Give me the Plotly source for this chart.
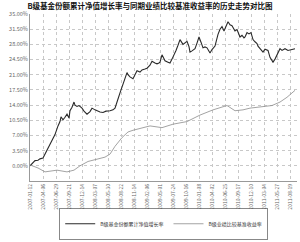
import plotly.graph_objects as go

title_text = "B级基金份额累计净值增长率与同期业绩比较基准收益率的历史走势对比图"

fund_name = "B级基金份额累计净值增长率"
bench_name = "B级业绩比较基准收益率"

# x positions (trading-day index) and values (%)
fund_x = [0, 2, 5, 8, 10, 13, 15, 17, 20, 22, 25, 28, 30, 31, 33, 35, 37, 39, 40, 42, 44, 45, 47, 49, 52,
          54, 57, 60, 62, 65, 67, 70, 73, 76, 80, 83, 85, 87, 88, 90, 93, 95, 97, 98, 100, 103, 105, 107,
          110, 112, 115, 117, 120, 122, 125, 127, 129, 130, 132, 135, 138, 140, 142, 144, 146, 148, 150,
          153, 155, 157, 159, 160, 162, 165, 167, 169, 171, 173, 175, 177, 180, 182, 185, 186, 188, 190,
          192, 194, 196, 198, 200, 202, 205, 207, 210, 212, 214, 215, 217, 219, 221, 223, 225, 227, 228,
          230, 233, 235, 238, 240, 243, 245, 247, 249, 250, 252, 255, 258, 262, 265]
fund_y = [0.0, 0.5, 1.2, 1.3, 1.6, 1.8, 2.7, 3.8, 5.1, 6.0, 7.2, 9.2, 10.2, 11.3, 10.6, 11.2, 11.9, 11.0,
          12.7, 13.5, 14.7, 14.0, 13.7, 13.9, 13.3, 12.6, 11.9, 12.5, 13.3, 12.9, 12.7, 12.4, 12.3, 12.6,
          12.7, 12.9, 13.3, 14.5, 15.4, 16.8, 18.8, 20.0, 21.5, 21.0, 20.5, 20.1, 21.0, 21.9, 21.6, 22.1,
          22.3, 22.5, 23.2, 24.1, 23.7, 23.5, 23.7, 23.9, 25.6, 24.2, 23.9, 23.7, 24.6, 25.5, 26.6, 27.8,
          29.1, 28.0, 28.4, 28.7, 27.5, 26.2, 26.5, 27.0, 28.3, 29.7, 28.5, 27.2, 27.4, 27.2, 26.0, 26.8,
          27.6, 28.8, 30.3, 31.5, 32.1, 31.1, 32.0, 33.2, 32.5, 32.3, 31.1, 31.4, 29.7, 30.1, 29.5, 29.7,
          30.7, 30.4, 30.7, 29.1, 28.6, 28.2, 27.6, 27.0, 26.2, 26.9, 26.6, 25.0, 23.9, 24.6, 25.6, 26.3,
          27.0, 26.6, 27.0, 26.6, 26.9, 27.0]

bench_x = [0, 8, 15, 22, 27, 32, 37, 44, 50, 58, 64, 70, 75, 80, 85, 92, 98, 103, 110, 120, 132, 143,
           157, 170, 183, 197, 205, 213, 220, 230, 242, 250, 257, 265]
bench_y = [0.2, -0.5, -1.4, -1.2, -1.0, -1.2, -1.4, -1.0, 0.0, 1.0, 1.4, 1.8, 2.0, 2.7, 4.5, 6.5, 7.8,
           8.2, 8.6, 9.2, 8.8, 9.6, 10.2, 11.7, 12.9, 13.9, 12.7, 12.9, 13.3, 13.6, 13.9, 14.7, 15.8, 17.4]

tick_vals = [0, 13, 26, 39, 52, 65, 78, 91, 104, 117, 130, 143, 156, 169, 182, 195, 208, 221, 234, 247, 260]
tick_text = ["2007-01-12", "2007-04-06", "2007-06-29", "2007-09-21", "2007-12-14", "2008-03-07",
             "2008-05-30", "2008-08-22", "2008-11-14", "2009-02-06", "2009-05-01", "2009-07-24",
             "2009-10-16", "2010-01-08", "2010-04-02", "2010-06-25", "2010-09-17", "2010-12-10",
             "2011-03-04", "2011-05-27", "2011-08-19"]

y_ticks = [0, 3.5, 7, 10.5, 14, 17.5, 21, 24.5, 28, 31.5, 35]
y_text = ["0.00%", "3.50%", "7.00%", "10.50%", "14.00%", "17.50%", "21.00%", "24.50%", "28.00%",
          "31.50%", "35.00%"]

fig = go.Figure()
fig.add_trace(go.Scatter(x=fund_x, y=fund_y, mode="lines", name=fund_name,
                         line=dict(color="#2a2a2a", width=1.1)))
fig.add_trace(go.Scatter(x=bench_x, y=bench_y, mode="lines", name=bench_name,
                         line=dict(color="#8c8c8c", width=0.8)))

fig.update_layout(
    width=300, height=242,
    margin=dict(l=30, r=3, t=14, b=40),
    paper_bgcolor="white", plot_bgcolor="white",
    font=dict(family="Noto Sans CJK SC", size=6, color="#555555"),
    title=dict(text=title_text, x=0.5, xanchor="center", y=0.985, yanchor="top",
               font=dict(family="Noto Sans CJK SC", size=7.5, color="#111111", weight="bold")),
    showlegend=True,
    legend=dict(orientation="h", x=0.5, xanchor="center", y=-0.165, yanchor="top",
                bordercolor="#555555", borderwidth=0.7, font=dict(size=5, color="#333333"),
                itemwidth=30, tracegroupgap=0, bgcolor="white"),
    xaxis=dict(range=[0, 267], tickmode="array", tickvals=tick_vals, ticktext=tick_text,
               tickangle=-90, tickfont=dict(size=5, color="#666666"),
               showgrid=True, gridcolor="#c8c8c8", griddash="dot", gridwidth=0.7,
               showline=True, linecolor="#999999", linewidth=1, zeroline=False, ticks=""),
    yaxis=dict(range=[-3.5, 35], tickmode="array", tickvals=y_ticks, ticktext=y_text,
               tickfont=dict(size=5.5, color="#666666"),
               showgrid=True, gridcolor="#c8c8c8", griddash="dot", gridwidth=0.7,
               showline=True, linecolor="#999999", linewidth=1, zeroline=False, ticks=""),
)

fig.write_html("out.html")
